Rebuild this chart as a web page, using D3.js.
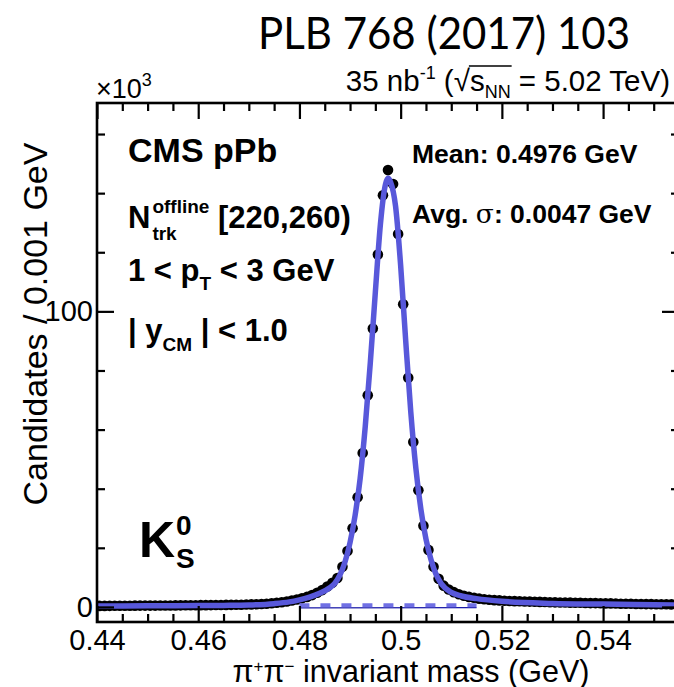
<!DOCTYPE html>
<html>
<head>
<meta charset="utf-8">
<script src="https://cdn.jsdelivr.net/npm/d3@7"></script>
<style>
  body { margin: 0; background: #fff; }
  svg { display: block; }
</style>
</head>
<body>
<svg id="chart" width="674" height="687"></svg>
<script>
// histogram: 1 MeV bins starting at 0.44 GeV, counts in units of 10^3
const binLo = 0.44, binWidth = 0.001;
const counts = [
  0.35, 0.35, 0.37, 0.38, 0.4, 0.4, 0.42, 0.43, 0.44, 0.45,
  0.45, 0.45, 0.5, 0.5, 0.5, 0.52, 0.54, 0.55, 0.57, 0.58,
  0.6, 0.6, 0.62, 0.64, 0.66, 0.68, 0.7, 0.72, 0.75, 0.8,
  0.85, 0.9, 1.0, 1.1, 1.25, 1.4, 1.6, 1.85, 2.15, 2.5,
  2.9, 3.4, 4.0, 4.8, 5.7, 6.9, 8.2, 9.8, 13.6, 18.9,
  26.6, 37.1, 52.1, 71.6, 94.2, 119.2, 139.3, 147.8, 143.1, 126.2,
  102.4, 77.5, 55.8, 39.5, 27.5, 19.3, 13.6, 9.5, 7.2, 5.9,
  5.0, 4.3, 3.8, 3.4, 3.1, 2.8, 2.6, 2.45, 2.3, 2.2,
  2.1, 2.0, 1.95, 1.9, 1.85, 1.8, 1.75, 1.7, 1.65, 1.6,
  1.55, 1.5, 1.5, 1.45, 1.4, 1.4, 1.35, 1.3, 1.3, 1.25,
  1.2, 1.2, 1.15, 1.1, 1.1, 1.05, 1.0, 1.0, 0.95, 0.95,
  0.9, 0.9, 0.9, 0.85, 0.85
];

// fitted signal + background curve
const fitMass = [0.44, 0.45, 0.46, 0.465, 0.47, 0.475, 0.478, 0.48, 0.482, 0.484,
  0.486, 0.487, 0.488, 0.489, 0.49, 0.491, 0.492, 0.493, 0.494, 0.495,
  0.496, 0.497, 0.4975, 0.498, 0.499, 0.5, 0.501, 0.502, 0.503, 0.504,
  0.505, 0.506, 0.507, 0.508, 0.51, 0.512, 0.515, 0.52, 0.53, 0.54, 0.555];
const fitVals = [0.3, 0.38, 0.45, 0.52, 0.65, 1.1, 1.7, 2.4, 3.3, 4.6,
  6.5, 8.0, 10.8, 15.2, 21.8, 31, 43.5, 61, 82.5, 106.5,
  129.5, 143, 145, 143.8, 135.5, 115.5, 90, 66, 47, 33,
  23, 16, 11, 7.9, 4.9, 3.7, 2.8, 1.9, 1.2, 0.95, 0.6];

// background component under the peak
const bgMass = [0.48, 0.515];
const bgVals = [0.55, 0.6];

const xMajor = [0.44, 0.46, 0.48, 0.5, 0.52, 0.54];
const xTickLabels = ['0.44', '0.46', '0.48', '0.5', '0.52', '0.54'];
const yMajor = [0, 100];
const yTickLabels = ['0', '100'];

const svg = d3.select('#chart');
const frame = { left: 97, right: 679, top: 103, bottom: 622 };
const x = d3.scaleLinear().domain([0.44, 0.555]).range([frame.left, frame.right]);
const y = d3.scaleLinear().domain([-5.1, 170.5]).range([frame.bottom, frame.top]);
const helv = "'Liberation Sans', Arial, sans-serif";
const blue = '#5858da';

svg.append('rect').attr('width', 674).attr('height', 687).attr('fill', '#fff');

svg.append('clipPath').attr('id', 'plot')
  .append('rect')
  .attr('x', frame.left).attr('y', frame.top)
  .attr('width', frame.right - frame.left).attr('height', frame.bottom - frame.top);

// data points
const plot = svg.append('g').attr('clip-path', 'url(#plot)');
plot.selectAll('circle.pt').data(counts).enter().append('circle')
  .attr('class', 'pt')
  .attr('cx', (d, i) => x(binLo + (i + 0.5) * binWidth))
  .attr('cy', d => y(d))
  .attr('r', 5.3)
  .attr('fill', '#000');

// background
const bgLine = d3.line().x(d => x(d[0])).y(d => y(d[1]));
const bgPts = d3.zip(bgMass, bgVals);
plot.append('path').attr('d', bgLine(bgPts))
  .attr('transform', 'translate(0,2.5)')
  .attr('fill', 'none').attr('stroke', '#1a1aa8').attr('stroke-width', 1.3);
plot.append('path').attr('d', bgLine(bgPts))
  .attr('fill', 'none').attr('stroke', '#7070e4').attr('stroke-width', 4)
  .attr('stroke-dasharray', '10,11');

// fit
const fitLine = d3.line().x(d => x(d[0])).y(d => y(d[1])).curve(d3.curveMonotoneX);
plot.append('path').attr('d', fitLine(d3.zip(fitMass, fitVals)))
  .attr('fill', 'none').attr('stroke', blue).attr('stroke-width', 5.5)
  .attr('stroke-linejoin', 'round');

// axes, ROOT style: ticks inside on all four sides
function styleAxis(g) {
  g.select('.domain').remove();
  g.selectAll('line').attr('stroke', '#000').attr('stroke-width', 2.2);
  g.selectAll('text').attr('font-family', helv).attr('font-size', 29).attr('fill', '#000');
}
const xMinor = d3.range(0.445, 0.555, 0.005).filter(v => !xMajor.some(m => Math.abs(m - v) < 1e-6));
const yMinor = [20, 40, 60, 80, 120, 140, 160];

svg.append('g').attr('transform', `translate(0,${frame.bottom})`)
  .call(d3.axisBottom(x).tickValues(xMajor).tickSize(-16).tickPadding(7)
    .tickFormat((d, i) => xTickLabels[i]))
  .call(styleAxis);
svg.append('g').attr('transform', `translate(0,${frame.bottom})`)
  .call(d3.axisBottom(x).tickValues(xMinor).tickSize(-8).tickFormat(''))
  .call(styleAxis);
svg.append('g').attr('transform', `translate(0,${frame.top})`)
  .call(d3.axisTop(x).tickValues(xMajor).tickSize(-16).tickFormat(''))
  .call(styleAxis);
svg.append('g').attr('transform', `translate(0,${frame.top})`)
  .call(d3.axisTop(x).tickValues(xMinor).tickSize(-8).tickFormat(''))
  .call(styleAxis);
svg.append('g').attr('transform', `translate(${frame.left},0)`)
  .call(d3.axisLeft(y).tickValues(yMajor).tickSize(-17).tickPadding(4)
    .tickFormat((d, i) => yTickLabels[i]))
  .call(styleAxis);
svg.append('g').attr('transform', `translate(${frame.left},0)`)
  .call(d3.axisLeft(y).tickValues(yMinor).tickSize(-8).tickFormat(''))
  .call(styleAxis);
svg.append('g').attr('transform', `translate(${frame.right},0)`)
  .call(d3.axisRight(y).tickValues(yMajor).tickSize(-17).tickFormat(''))
  .call(styleAxis);
svg.append('g').attr('transform', `translate(${frame.right},0)`)
  .call(d3.axisRight(y).tickValues(yMinor).tickSize(-8).tickFormat(''))
  .call(styleAxis);

svg.append('rect')
  .attr('x', frame.left).attr('y', frame.top)
  .attr('width', frame.right - frame.left).attr('height', frame.bottom - frame.top)
  .attr('fill', 'none').attr('stroke', '#000').attr('stroke-width', 2.6);

// text with sub/superscripts; each part: {t, size, off (px below baseline), weight, family}
function rich(x0, y0, parts, base, anchor) {
  const t = svg.append('text').attr('x', x0).attr('y', y0)
    .attr('font-family', base.family || helv).attr('font-size', base.size)
    .attr('font-weight', base.weight || 'normal').attr('fill', '#000')
    .attr('text-anchor', anchor || 'start');
  let prev = 0;
  parts.forEach(p => {
    const off = p.off || 0;
    const ts = t.append('tspan').text(p.t).attr('dy', off - prev);
    if (p.size) ts.attr('font-size', p.size);
    if (p.weight) ts.attr('font-weight', p.weight);
    if (p.family) ts.attr('font-family', p.family);
    prev = off;
  });
  return t;
}

// header
svg.append('text').attr('x', 258).attr('y', 49)
  .attr('font-family', 'Lato, sans-serif').attr('font-size', 44)
  .attr('textLength', 372).attr('lengthAdjust', 'spacingAndGlyphs')
  .text('PLB 768 (2017) 103');

const lumi = rich(670, 91, [
  { t: '35 nb' }, { t: '-1', size: 18, off: -12 }, { t: ' (', off: 0 },
  { t: '\u221A' }, { t: 's' }, { t: 'NN', size: 18, off: 7 },
  { t: ' = 5.02 TeV)', off: 0 }
], { size: 29.5 }, 'end');
{
  const n = lumi.node();
  const root = n.getExtentOfChar(9);
  const endNN = n.getEndPositionOfChar(12).x;
  svg.append('line')
    .attr('x1', root.x + root.width - 1).attr('x2', endNN + 1)
    .attr('y1', root.y + 2).attr('y2', root.y + 2)
    .attr('stroke', '#000').attr('stroke-width', 1.5);
}

rich(96, 98, [{ t: '\u00D710' }, { t: '3', size: 18, off: -12 }], { size: 27 });

// labels inside the frame
rich(128, 162, [{ t: 'CMS pPb' }], { size: 34, weight: 'bold' });
{
  const t = rich(128, 228, [{ t: 'N' }], { size: 31, weight: 'bold' });
  const nEnd = 128 + t.select('tspan').node().getComputedTextLength() + 2;
  t.append('tspan').text('offline').attr('x', nEnd).attr('dy', -15).attr('font-size', 19);
  t.append('tspan').text('trk').attr('x', nEnd).attr('dy', 27).attr('font-size', 19);
  t.append('tspan').text('[220,260)').attr('x', 218).attr('dy', -12);
}
rich(128, 281, [{ t: '1 < p' }, { t: 'T', size: 19, off: 9 }, { t: ' < 3 GeV', off: 0 }],
  { size: 31, weight: 'bold' });
rich(128, 341, [{ t: '| y' }, { t: 'CM', size: 19, off: 10 }, { t: ' | < 1.0', off: 0 }],
  { size: 31, weight: 'bold' });

rich(412, 163, [{ t: 'Mean: 0.4976 GeV' }], { size: 26.5, weight: 'bold' });
rich(412, 223, [{ t: 'Avg. ' }, { t: '\u03C3', weight: 'normal', family: "'DejaVu Serif', serif" },
  { t: ': 0.0047 GeV' }], { size: 26.5, weight: 'bold' });

{
  const t = rich(139, 557, [{ t: 'K' }], { size: 50, weight: 'bold' });
  const kEnd = 139 + t.select('tspan').node().getComputedTextLength() + 1;
  t.append('tspan').text('0').attr('x', kEnd).attr('dy', -22).attr('font-size', 28);
  t.append('tspan').text('S').attr('x', kEnd).attr('dy', 33).attr('font-size', 28);
}

// axis titles
rich(411, 682, [
  { t: '\u03C0' }, { t: '+', size: 17, off: -10 }, { t: '\u03C0', off: 0 },
  { t: '\u2212', size: 17, off: -10 }, { t: ' invariant mass (GeV)', off: 0 }
], { size: 30.5 }, 'middle');

svg.append('text')
  .attr('transform', 'translate(47,324) rotate(-90)')
  .attr('text-anchor', 'middle')
  .attr('font-family', helv).attr('font-size', 34)
  .text('Candidates / 0.001 GeV');
</script>
</body>
</html>
